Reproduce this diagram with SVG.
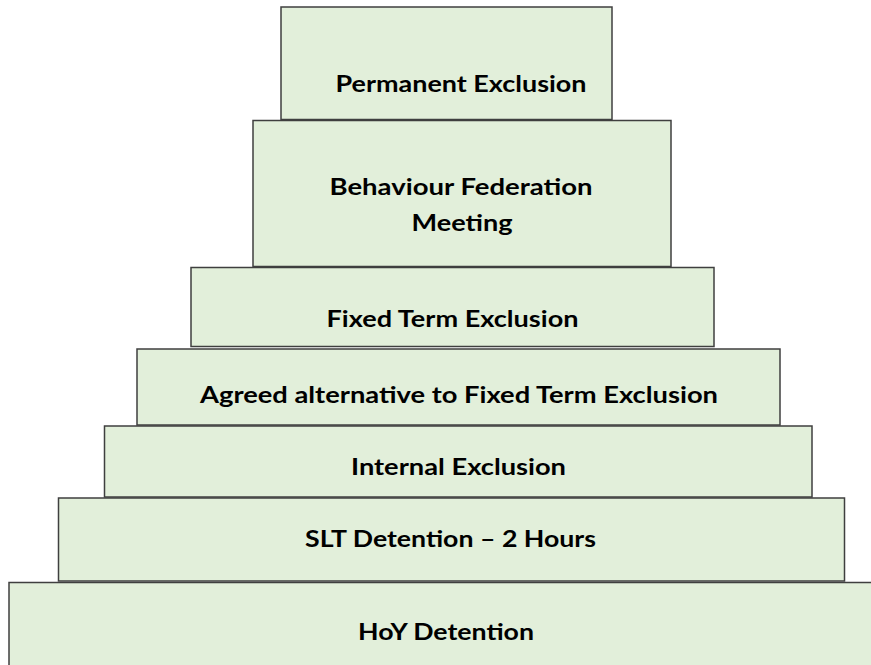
<svg xmlns="http://www.w3.org/2000/svg" width="871" height="665" viewBox="0 0 871 665">
<style>
.box{fill:#E2EFDA;stroke:#3F3F3F;stroke-width:1.5}
.lbl{font-family:Lato,"Open Sans","Liberation Sans",sans-serif;font-weight:700;font-size:22px;fill:#000;text-anchor:middle}
</style>
<rect width="871" height="665" fill="#FFFFFF"/>
<g id="connectors"></g>
<g id="hoy-detention">
<rect class="box" x="9" y="582.5" width="900" height="100"/>
<text class="lbl" x="446" y="640" textLength="176" lengthAdjust="spacingAndGlyphs">HoY Detention</text>
</g>
<g id="slt-detention">
<rect class="box" x="58.5" y="498" width="786" height="83"/>
<text class="lbl" x="450.5" y="547" textLength="291" lengthAdjust="spacingAndGlyphs">SLT Detention – 2 Hours</text>
</g>
<g id="internal-exclusion">
<rect class="box" x="104.5" y="426" width="707.5" height="71"/>
<text class="lbl" x="458.5" y="475" textLength="215" lengthAdjust="spacingAndGlyphs">Internal Exclusion</text>
</g>
<g id="agreed-alternative">
<rect class="box" x="137" y="349" width="643" height="76"/>
<text class="lbl" x="459" y="402.5" textLength="518" lengthAdjust="spacingAndGlyphs">Agreed alternative to Fixed Term Exclusion</text>
</g>
<g id="fixed-term-exclusion">
<rect class="box" x="191" y="267.5" width="523" height="79"/>
<text class="lbl" x="452.5" y="326.5" textLength="252" lengthAdjust="spacingAndGlyphs">Fixed Term Exclusion</text>
</g>
<g id="behaviour-federation-meeting">
<rect class="box" x="253" y="120.5" width="418" height="146"/>
<text class="lbl" x="461" y="195" textLength="263" lengthAdjust="spacingAndGlyphs">Behaviour Federation</text>
<text class="lbl" x="462" y="230.5" textLength="101" lengthAdjust="spacingAndGlyphs">Meeting</text>
</g>
<g id="permanent-exclusion">
<rect class="box" x="281" y="7" width="331" height="112.5"/>
<text class="lbl" x="461" y="92.3" textLength="251" lengthAdjust="spacingAndGlyphs">Permanent Exclusion</text>
</g>
</svg>
